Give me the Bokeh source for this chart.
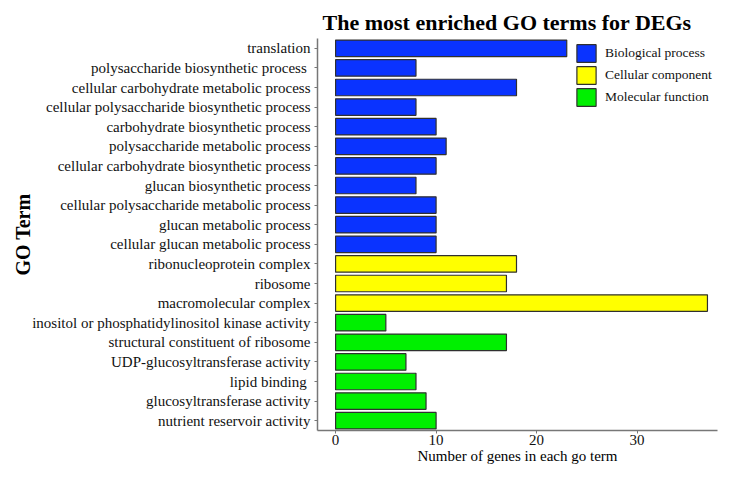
from bokeh.plotting import figure
from bokeh.models import ColumnDataSource, FactorRange, Range1d, Legend, LegendItem, FixedTicker
from bokeh.embed import file_html
from bokeh.resources import INLINE

terms = [
    "translation",
    "polysaccharide  biosynthetic process",
    "cellular carbohydrate metabolic process",
    "cellular polysaccharide biosynthetic process",
    "carbohydrate biosynthetic process",
    "polysaccharide metabolic process",
    "cellular carbohydrate biosynthetic process",
    "glucan biosynthetic process",
    "cellular polysaccharide metabolic process",
    "glucan metabolic process",
    "cellular glucan metabolic process",
    "ribonucleoprotein complex",
    "ribosome",
    "macromolecular complex",
    "inositol or phosphatidylinositol kinase activity",
    "structural constituent of ribosome",
    "UDP-glucosyltransferase activity",
    "lipid  binding",
    "glucosyltransferase activity",
    "nutrient reservoir activity",
]
counts = [23, 8, 18, 8, 10, 11, 10, 8, 10, 10, 10, 18, 17, 37, 5, 17, 7, 8, 9, 10]
groups = ["Biological process"] * 11 + ["Cellular component"] * 3 + ["Molecular function"] * 6
group_names = ["Biological process", "Cellular component", "Molecular function"]
group_colors = ["#0A33FF", "#FFFF00", "#00F000"]
x_ticks = [0, 10, 20, 30]

p = figure(width=719, height=466, output_backend="svg", toolbar_location=None,
           y_range=FactorRange(factors=list(reversed(terms)), range_padding=0.0),
           x_range=Range1d(-1.8, 38.0),
           min_border_left=317, min_border_right=2, min_border_top=38, min_border_bottom=0)

p.title.text = "The most enriched GO terms for DEGs"
p.title.text_font = "Liberation Serif"
p.title.text_font_size = "22px"
p.title.text_font_style = "bold"
p.title.align = "left"
p.title.offset = 5
p.title.standoff = 8
p.title.text_color = "#000000"

bar_renderers = []
for g, c in zip(group_names, group_colors):
    idx = [i for i, gg in enumerate(groups) if gg == g]
    s = ColumnDataSource(dict(term=[terms[i] for i in idx], count=[counts[i] for i in idx]))
    r = p.hbar(y="term", right="count", left=0, height=0.84, source=s,
               fill_color=c, line_color="#303030", line_width=1.2)
    bar_renderers.append(r)

legend = Legend(items=[LegendItem(label=g, renderers=[r]) for g, r in zip(group_names, bar_renderers)],
                location=(257, 322), border_line_color=None, background_fill_alpha=0,
                label_text_font="Liberation Serif", label_text_font_size="13.5px",
                label_text_color="#111111",
                glyph_height=22, glyph_width=24, spacing=0, padding=0, margin=0,
                label_standoff=7, label_height=22)
p.add_layout(legend)

p.xgrid.visible = False
p.ygrid.visible = False
p.outline_line_color = None

p.xaxis.ticker = FixedTicker(ticks=x_ticks)
p.xaxis.minor_tick_line_color = None
p.xaxis.axis_label = "Number of genes in each go term"
p.xaxis.axis_label_text_font = "Liberation Serif"
p.xaxis.axis_label_text_font_style = "normal"
p.xaxis.axis_label_text_font_size = "15px"
p.xaxis.major_label_text_font = "Liberation Serif"
p.xaxis.major_label_text_font_size = "15px"
p.xaxis.axis_line_color = "#777777"
p.xaxis.axis_line_width = 1.5
p.xaxis.major_tick_line_color = "#777777"
p.xaxis.major_tick_in = 0
p.xaxis.major_tick_out = 3
p.xaxis.major_label_standoff = 1
p.xaxis.axis_label_standoff = 0

p.yaxis.axis_label = "GO Term"
p.yaxis.axis_label_text_font = "Liberation Serif"
p.yaxis.axis_label_text_font_style = "bold"
p.yaxis.axis_label_text_font_size = "20px"
p.yaxis.major_label_text_font = "Liberation Serif"
p.yaxis.major_label_text_font_size = "15px"
p.yaxis.axis_line_color = "#777777"
p.yaxis.axis_line_width = 1.5
p.yaxis.major_tick_line_color = "#777777"
p.yaxis.major_tick_in = 0
p.yaxis.major_tick_out = 3
p.yaxis.major_label_standoff = 4
p.yaxis.axis_label_standoff = -5

for ax in (p.xaxis, p.yaxis):
    ax.major_label_text_color = "#111111"
    ax.axis_label_text_color = "#000000"

open("out.html", "w").write(file_html(p, INLINE))
